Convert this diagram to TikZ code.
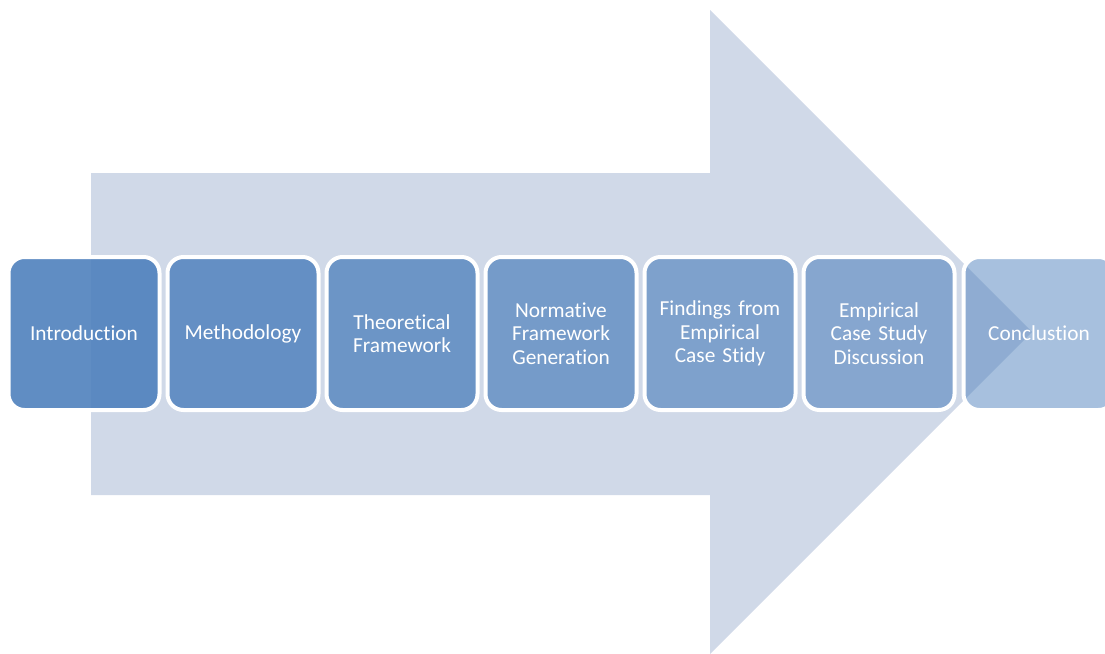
\documentclass[tikz,border=0pt]{standalone}
\usepackage{fontspec}
\setmainfont[Ligatures=NoCommon]{Carlito}
\definecolor{shaft}{HTML}{D0D9E8}
\definecolor{stage}{HTML}{4F81BD}
\tikzset{
  stagebox/.style={draw=white, line width=3pt, rounded corners=12pt,
    minimum width=151*0.75pt, minimum height=153*0.75pt, text width=140*0.75pt,
    align=center, text=white, font=\fontsize{16}{17.6}\selectfont, fill=stage}
}
\begin{document}
\begin{tikzpicture}[x=0.75pt, y=-0.75pt]
                \useasboundingbox (0, 0) rectangle (1105, 653);
                \clip (0, 0) rectangle (1105, 653);
                \fill [shaft] (91, 173) -- (710, 173) -- (710, 10) -- (1032, 332)
                    -- (710, 654) -- (710, 495) -- (91, 495) -- cycle;
                \node [stagebox, fill opacity=0.90, text opacity=1] (intro) at (84, 333.5) {Introduction};
                \node [stagebox, fill opacity=0.83, text opacity=1] (method) at (243, 333.5) {Methodology};
                \node [stagebox, fill opacity=0.77, text opacity=1] (theory) at (402, 333.5) {Theoretical\\Framework};
                \node [stagebox, fill opacity=0.70, text opacity=1] (norm) at (561, 333.5) {Normative\\Framework\\Generation};
                \node [stagebox, fill opacity=0.63, text opacity=1] (findings) at (720, 333.5) {Findings from\\Empirical\\Case Stidy};
                \node [stagebox, fill opacity=0.57, text opacity=1] (discuss) at (879, 333.5) {Empirical\\Case Study\\Discussion};
                \node [stagebox, fill opacity=0.50, text opacity=1] (concl) at (1039, 333.5) {Conclustion};
            \end{tikzpicture}
\end{document}
